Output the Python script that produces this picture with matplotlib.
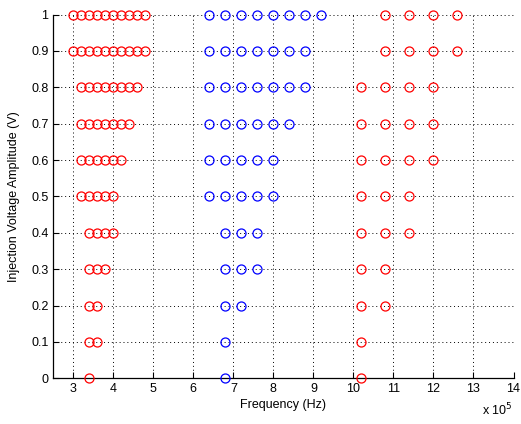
import matplotlib
matplotlib.use("Agg")
import matplotlib.pyplot as plt

plt.rcParams['font.family'] = ['Liberation Sans', 'DejaVu Sans']

# voltage levels (V) and frequencies (x 10^5 Hz) for each group
volts = [1.0, 0.9, 0.8, 0.7, 0.6, 0.5, 0.4, 0.3, 0.2, 0.1, 0.0]

red_low = [
    [3.0, 3.2, 3.4, 3.6, 3.8, 4.0, 4.2, 4.4, 4.6, 4.8],
    [3.0, 3.2, 3.4, 3.6, 3.8, 4.0, 4.2, 4.4, 4.6, 4.8],
    [3.2, 3.4, 3.6, 3.8, 4.0, 4.2, 4.4, 4.6],
    [3.2, 3.4, 3.6, 3.8, 4.0, 4.2, 4.4],
    [3.2, 3.4, 3.6, 3.8, 4.0, 4.2],
    [3.2, 3.4, 3.6, 3.8, 4.0],
    [3.4, 3.6, 3.8, 4.0],
    [3.4, 3.6, 3.8],
    [3.4, 3.6],
    [3.4, 3.6],
    [3.4],
]

blue_mid = [
    [6.4, 6.8, 7.2, 7.6, 8.0, 8.4, 8.8, 9.2],
    [6.4, 6.8, 7.2, 7.6, 8.0, 8.4, 8.8],
    [6.4, 6.8, 7.2, 7.6, 8.0, 8.4, 8.8],
    [6.4, 6.8, 7.2, 7.6, 8.0, 8.4],
    [6.4, 6.8, 7.2, 7.6, 8.0],
    [6.4, 6.8, 7.2, 7.6, 8.0],
    [6.8, 7.2, 7.6],
    [6.8, 7.2, 7.6],
    [6.8, 7.2],
    [6.8],
    [6.8],
]

red_high = [
    [10.8, 11.4, 12.0, 12.6],
    [10.8, 11.4, 12.0, 12.6],
    [10.2, 10.8, 11.4, 12.0],
    [10.2, 10.8, 11.4, 12.0],
    [10.2, 10.8, 11.4, 12.0],
    [10.2, 10.8, 11.4],
    [10.2, 10.8, 11.4],
    [10.2, 10.8],
    [10.2, 10.8],
    [10.2],
    [10.2],
]

fig = plt.figure(figsize=(5.21, 4.24), dpi=100)
ax = fig.add_axes([53.3 / 521, 1 - 378.3 / 424, (513.5 - 53.3) / 521, (378.3 - 14.5) / 424])

def flat(groups):
    xs, ys = [], []
    for v, row in zip(volts, groups):
        for f in row:
            xs.append(f)
            ys.append(v)
    return xs, ys

for groups, col in [(red_low, 'red'), (blue_mid, 'blue'), (red_high, 'red')]:
    xs, ys = flat(groups)
    ax.plot(xs, ys, 'o', color=col, mfc='none', ms=6.5, mew=0.9, clip_on=False, zorder=3)

ax.set_xlim(2.5, 14)
ax.set_ylim(0, 1)
ax.set_xticks(range(3, 15))
ax.set_yticks([i / 10 for i in range(11)])
ax.set_yticklabels(['0', '0.1', '0.2', '0.3', '0.4', '0.5', '0.6', '0.7', '0.8', '0.9', '1'])
ax.grid(True, linestyle=(0, (1, 3)), color='black', linewidth=0.7)
ax.tick_params(direction='in', length=4, labelsize=9, width=0.8)
for s in ['top', 'right']:
    ax.spines[s].set_visible(False)
for s in ['left', 'bottom']:
    ax.spines[s].set_linewidth(0.9)

ax.set_xlabel('Frequency (Hz)', fontsize=9, labelpad=3)
ax.set_ylabel('Injection Voltage Amplitude (V)', fontsize=9, labelpad=8)
fig.text(497 / 521, 1 - 410 / 424, 'x 10$^5$', fontsize=9, ha='center', va='center')

fig.savefig('out.png', dpi=100)
